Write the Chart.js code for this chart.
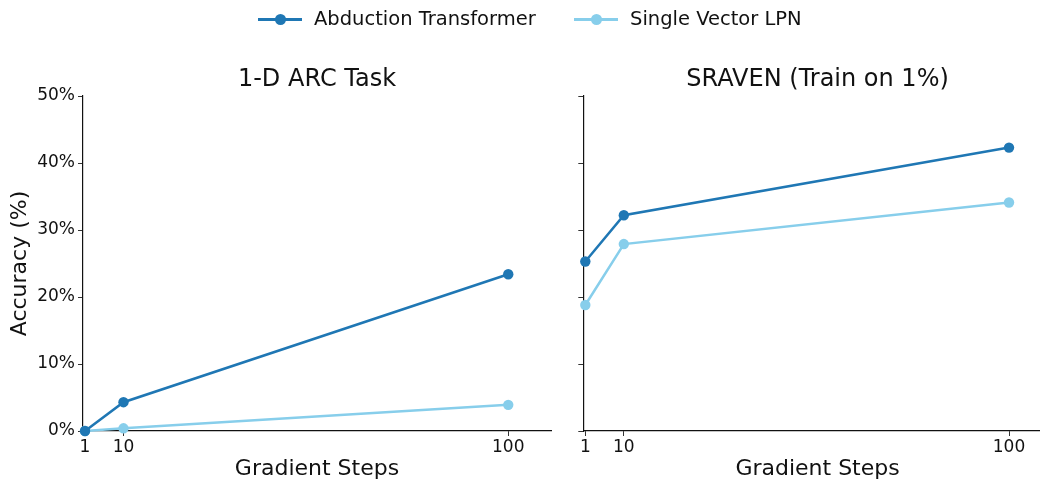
<!DOCTYPE html>
<html>
<head>
<meta charset="utf-8">
<script src="https://cdn.jsdelivr.net/npm/chart.js@4/dist/chart.umd.min.js"></script>
<style>
  html, body { margin: 0; padding: 0; background: #fff; }
  #wrap { position: relative; width: 1040px; height: 480px; overflow: hidden; font-family: "DejaVu Sans", sans-serif; }
  .panel { position: absolute; top: 0; height: 480px; }
  #legend { position: absolute; top: 6px; left: 0; width: 1040px; height: 26px; }
  .item { position: absolute; top: 0; height: 26px; font-size: 19.5px; line-height: 26px; color: #111; white-space: nowrap; }
  .swatch { position: absolute; top: 12px; left: 0; width: 44px; height: 3px; }
  .dot { position: absolute; top: 8px; left: 17px; width: 11px; height: 11px; border-radius: 50%; }
  .label { position: absolute; left: 56px; top: 0; }
</style>
</head>
<body>
<div id="wrap">
  <div class="panel" style="left:0; width:560px;"><canvas id="arc" width="560" height="480"></canvas></div>
  <div class="panel" style="left:540px; width:517px;"><canvas id="sraven" width="517" height="480"></canvas></div>
  <div id="legend"></div>
</div>
<script>
// Gradient step counts (x) and accuracies in percent (y)
const steps = [1, 10, 100];
const xTicks = [1, 10, 100];
const yTicks = [0, 10, 20, 30, 40, 50];
const seriesNames = ['Abduction Transformer', 'Single Vector LPN'];
const seriesColors = ['#1f77b4', '#87ceeb'];

const arcAbduction = [0, 4.3, 23.4];
const arcLPN = [0, 0.4, 3.9];
const sravenAbduction = [25.3, 32.2, 42.3];
const sravenLPN = [18.8, 27.9, 34.1];

const FONT = '"DejaVu Sans", sans-serif';
const INK = '#111';

function toPoints(values) {
  return steps.map((s, i) => ({ x: s, y: values[i] }));
}

function makeDataset(name, color, values) {
  return {
    label: name,
    data: toPoints(values),
    borderColor: color,
    backgroundColor: color,
    borderWidth: 2.5,
    pointRadius: 5.2,
    pointHoverRadius: 5.2,
    pointBorderWidth: 0,
    clip: false,
    tension: 0
  };
}

// Panel title centred over the plotting area
const panelTitle = {
  id: 'panelTitle',
  afterDraw(chart, args, opts) {
    const { ctx, chartArea } = chart;
    ctx.save();
    ctx.fillStyle = INK;
    ctx.font = '24px ' + FONT;
    ctx.textAlign = 'center';
    ctx.textBaseline = 'middle';
    ctx.fillText(opts.text, (chartArea.left + chartArea.right) / 2, 80);
    ctx.restore();
  }
};

function buildChart(id, title, sets, opts) {
  const ctx = document.getElementById(id);
  return new Chart(ctx, {
    type: 'line',
    data: {
      datasets: [
        makeDataset(seriesNames[0], seriesColors[0], sets[0]),
        makeDataset(seriesNames[1], seriesColors[1], sets[1])
      ]
    },
    plugins: [panelTitle],
    options: {
      responsive: false,
      animation: false,
      events: [],
      layout: { padding: { top: 96, right: opts.padRight, bottom: 0, left: 0 } },
      plugins: {
        legend: { display: false },
        tooltip: { enabled: false },
        panelTitle: { text: title }
      },
      scales: {
        x: {
          type: 'linear',
          min: opts.xMin,
          max: opts.xMax,
          afterBuildTicks: (scale) => { scale.ticks = xTicks.map(v => ({ value: v })); },
          afterFit: (scale) => { scale.height = 49; },
          grid: { display: true, drawOnChartArea: false, drawTicks: true, tickLength: 5, color: '#333', tickWidth: 1 },
          border: { display: true, color: '#111', width: 1.2 },
          ticks: { color: INK, font: { family: FONT, size: 17 }, padding: 1, maxRotation: 0, autoSkip: false },
          title: { display: true, text: 'Gradient Steps', color: INK, font: { family: FONT, size: 22, lineHeight: 1 }, padding: { top: 0, bottom: 0 } }
        },
        y: {
          type: 'linear',
          min: 0,
          max: 50,
          afterBuildTicks: (scale) => { scale.ticks = yTicks.map(v => ({ value: v })); },
          afterFit: (scale) => { scale.width = opts.yWidth; },
          grid: { display: true, drawOnChartArea: false, drawTicks: true, tickLength: 5, color: '#333', tickWidth: 1 },
          border: { display: true, color: '#111', width: 1.2 },
          ticks: {
            display: opts.showYLabels,
            color: INK,
            font: { family: FONT, size: 17 },
            padding: 3,
            callback: (v) => v + '%'
          },
          title: {
            display: opts.showYLabels,
            text: 'Accuracy (%)',
            color: INK,
            font: { family: FONT, size: 22, lineHeight: 1 },
            padding: { top: 9, bottom: 0 }
          }
        }
      }
    }
  });
}

buildChart('arc', '1-D ARC Task', [arcAbduction, arcLPN],
  { xMin: 0.53, xMax: 110, yWidth: 83, padRight: 9, showYLabels: true });
buildChart('sraven', 'SRAVEN (Train on 1%)', [sravenAbduction, sravenLPN],
  { xMin: 0.53, xMax: 110, yWidth: 43.3, padRight: 0, showYLabels: false });

// Shared legend across both panels
const legend = document.getElementById('legend');
const legendLeft = [258, 574];
seriesNames.forEach((name, i) => {
  const item = document.createElement('div');
  item.className = 'item';
  item.style.left = legendLeft[i] + 'px';
  item.innerHTML = '<div class="swatch" style="background:' + seriesColors[i] + '"></div>' +
    '<div class="dot" style="background:' + seriesColors[i] + '"></div>' +
    '<div class="label"></div>';
  item.querySelector('.label').textContent = name;
  legend.appendChild(item);
});
</script>
</body>
</html>
